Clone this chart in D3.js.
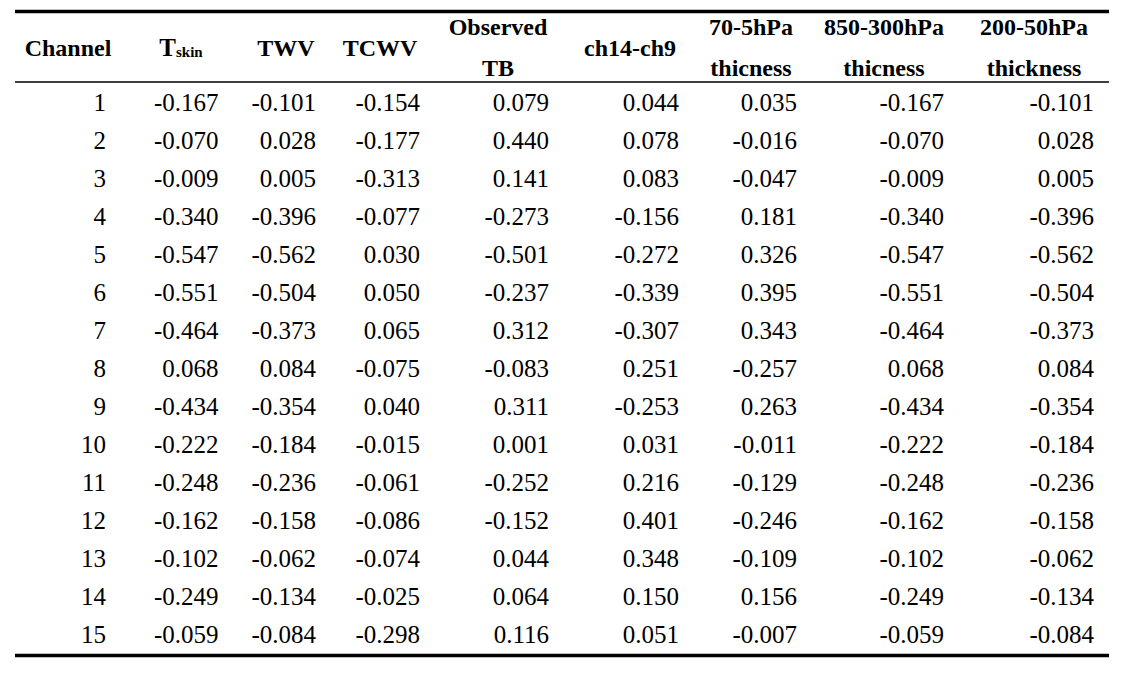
<!DOCTYPE html>
<html>
<head>
<meta charset="utf-8">
<script src="https://cdn.jsdelivr.net/npm/d3@7"></script>
<style>
html,body{margin:0;padding:0;background:#fff;}
svg{display:block;}
</style>
</head>
<body>
<svg id="chart" width="1137" height="686"></svg>
<script>
// ---- data ----
const channels = [1,2,3,4,5,6,7,8,9,10,11,12,13,14,15];
const tskin = ["-0.167","-0.070","-0.009","-0.340","-0.547","-0.551","-0.464","0.068","-0.434","-0.222","-0.248","-0.162","-0.102","-0.249","-0.059"];
const twv = ["-0.101","0.028","0.005","-0.396","-0.562","-0.504","-0.373","0.084","-0.354","-0.184","-0.236","-0.158","-0.062","-0.134","-0.084"];
const tcwv = ["-0.154","-0.177","-0.313","-0.077","0.030","0.050","0.065","-0.075","0.040","-0.015","-0.061","-0.086","-0.074","-0.025","-0.298"];
const observedTB = ["0.079","0.440","0.141","-0.273","-0.501","-0.237","0.312","-0.083","0.311","0.001","-0.252","-0.152","0.044","0.064","0.116"];
const ch14ch9 = ["0.044","0.078","0.083","-0.156","-0.272","-0.339","-0.307","0.251","-0.253","0.031","0.216","0.401","0.348","0.150","0.051"];
const thick70_5 = ["0.035","-0.016","-0.047","0.181","0.326","0.395","0.343","-0.257","0.263","-0.011","-0.129","-0.246","-0.109","0.156","-0.007"];
const thick850_300 = ["-0.167","-0.070","-0.009","-0.340","-0.547","-0.551","-0.464","0.068","-0.434","-0.222","-0.248","-0.162","-0.102","-0.249","-0.059"];
const thick200_50 = ["-0.101","0.028","0.005","-0.396","-0.562","-0.504","-0.373","0.084","-0.354","-0.184","-0.236","-0.158","-0.062","-0.134","-0.084"];
const headers = [
  ["Channel"], ["T|skin"], ["TWV"], ["TCWV"], ["Observed","TB"],
  ["ch14-ch9"], ["70-5hPa","thicness"], ["850-300hPa","thicness"], ["200-50hPa","thickness"]
];

// ---- layout ----
const columns = [channels.map(String), tskin, twv, tcwv, observedTB, ch14ch9, thick70_5, thick850_300, thick200_50];
const colRight = [106, 218.5, 316, 420, 549, 679, 797, 944, 1094];
const colCenter = [68, 181, 286, 380, 498, 630, 751, 884, 1034];
const left = 15, right = 1109;
const FONT = '"Liberation Serif", monospace';

const svg = d3.select("#chart");

const y = d3.scaleLinear().domain([0, channels.length - 1]).range([111, 643.3]);

// rules
svg.append("line").attr("x1", left).attr("x2", right).attr("y1", 11.5).attr("y2", 11.5)
  .attr("stroke", "#000").attr("stroke-width", 3.5);
svg.append("line").attr("x1", left).attr("x2", right).attr("y1", 82).attr("y2", 82)
  .attr("stroke", "#000").attr("stroke-width", 1.5);
svg.append("line").attr("x1", left).attr("x2", right).attr("y1", 655.5).attr("y2", 655.5)
  .attr("stroke", "#000").attr("stroke-width", 3.5);

// headers
const hg = svg.append("g").attr("fill", "#000");
function htext(x, yy, s) {
  return hg.append("text").attr("x", x).attr("y", yy)
    .style("font-family", FONT).style("font-weight", "bold").attr("font-size", 24)
    .attr("text-anchor", "middle").text(s);
}
headers.forEach((h, i) => {
  if (h.length === 1) {
    if (h[0].includes("|")) {
      const [main, sub] = h[0].split("|");
      const t = hg.append("text").attr("x", colCenter[i]).attr("y", 56)
        .style("font-family", FONT).style("font-weight", "bold").attr("text-anchor", "middle");
      t.append("tspan").text(main).attr("font-size", 25);
      t.append("tspan").text(sub).attr("font-size", 15).attr("dy", 1);
    } else {
      htext(colCenter[i], 56, h[0]);
    }
  } else {
    htext(colCenter[i], 35, h[0]);
    htext(colCenter[i], 76, h[1]);
  }
});

// body
const bg = svg.append("g").attr("fill", "#000");
columns.forEach((col, ci) => {
  bg.selectAll(null).data(col).enter().append("text")
    .attr("x", colRight[ci])
    .attr("y", (d, i) => y(i))
    .style("font-family", FONT).attr("font-size", 25).attr("text-anchor", "end")
    .text(d => d);
});
</script>
</body>
</html>
